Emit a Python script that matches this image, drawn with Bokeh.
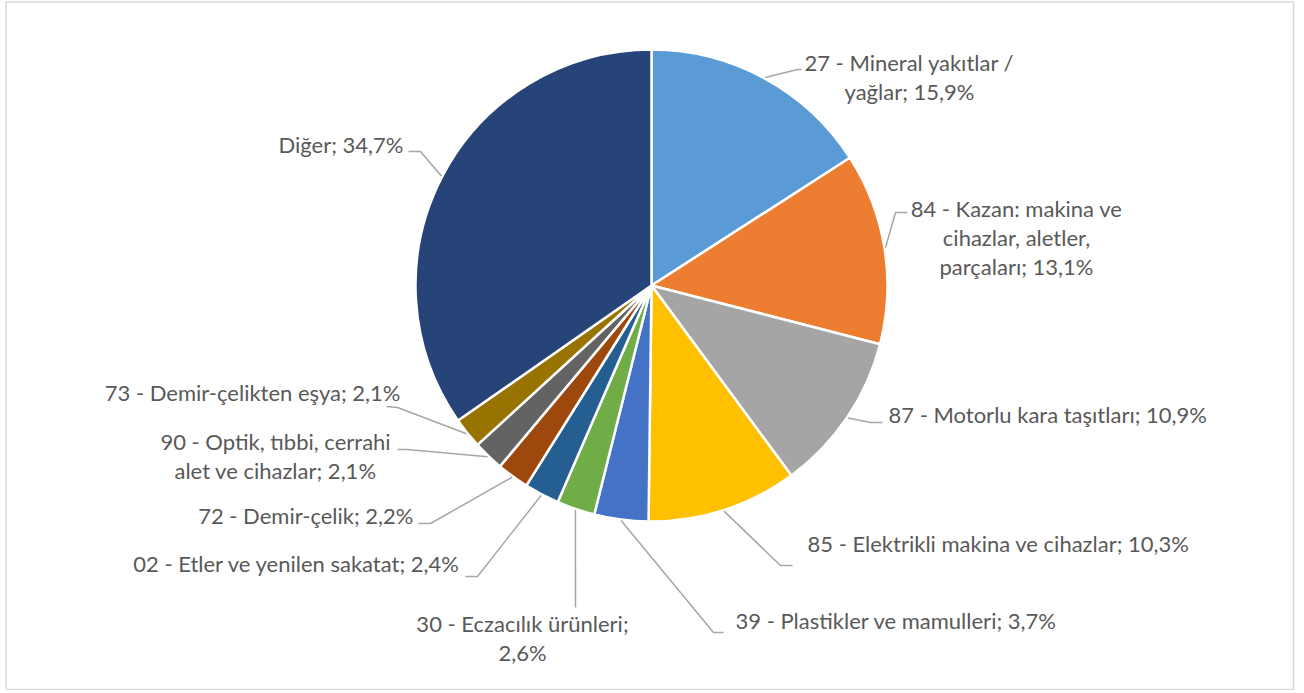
import math
from bokeh.plotting import figure
from bokeh.models import Range1d, ColumnDataSource
from bokeh.core.properties import value
from bokeh.embed import file_html
from bokeh.resources import INLINE

# ---- data ----
categories = [
    "27 - Mineral yakıtlar / yağlar",
    "84 - Kazan: makina ve cihazlar, aletler, parçaları",
    "87 - Motorlu kara taşıtları",
    "85 - Elektrikli makina ve cihazlar",
    "39 - Plastikler ve mamulleri",
    "30 - Eczacılık ürünleri",
    "02 - Etler ve yenilen sakatat",
    "72 - Demir-çelik",
    "90 - Optik, tıbbi, cerrahi alet ve cihazlar",
    "73 - Demir-çelikten eşya",
    "Diğer",
]
shares = [15.9, 13.1, 10.9, 10.3, 3.7, 2.6, 2.4, 2.2, 2.1, 2.1, 34.7]
colors = ["#5B9BD5", "#ED7D31", "#A5A5A5", "#FFC000", "#4472C4", "#70AD47",
          "#255E91", "#9E480E", "#636363", "#997300", "#264478"]

# ---- layout (image pixel coords) ----
W, H = 1296, 690
CX, CY, R = 651, 285, 236
FONT = "Lato"
FS = "22px"
TEXT_COLOR = "#595959"
LEADER = "#A6A6A6"

# how each label is broken into lines
label_lines = [
    ["27 - Mineral yakıtlar /", "yağlar; {v}"],
    ["84 - Kazan: makina ve", "cihazlar, aletler,", "parçaları; {v}"],
    ["87 - Motorlu kara taşıtları; {v}"],
    ["85 - Elektrikli makina ve cihazlar; {v}"],
    ["39 - Plastikler ve mamulleri; {v}"],
    ["30 - Eczacılık ürünleri;", "{v}"],
    ["02 - Etler ve yenilen sakatat; {v}"],
    ["72 - Demir-çelik; {v}"],
    ["90 - Optik, tıbbi, cerrahi", "alet ve cihazlar; {v}"],
    ["73 - Demir-çelikten eşya; {v}"],
    ["Diğer; {v}"],
]
# text anchor x, first baseline y, alignment
label_x = [909, 1016, 888, 807, 735, 522, 460, 413, 275, 400, 403]
label_y = [62, 208, 414, 543, 620, 623, 563, 515, 441, 392, 144]
label_align = ["center", "center", "left", "left", "left", "center",
               "right", "right", "center", "right", "right"]
LINE_H = 29
# leader elbow and end points
elbow = [(797, 69), (895, 212), (870, 422), (780, 565), (713, 632), (575, 607),
         (477, 576), (430, 523), (407, 449), (397, 407), (420, 151)]
lead_end = [(801, 69), (907, 212), (882, 422), (792, 565), (723, 632), (575, 607),
            (465, 576), (418, 523), (397, 449), (386, 406), (408, 151)]

p = figure(width=W, height=H, output_backend="svg", toolbar_location=None,
           x_range=Range1d(0, W), y_range=Range1d(-H, 0),
           min_border=0, match_aspect=False)
p.axis.visible = False
p.grid.visible = False
p.outline_line_color = None
p.background_fill_color = "white"
p.border_fill_color = "white"

# chart-area border
p.quad(left=[5.5], right=[1293], top=[-1.5], bottom=[-689], fill_color=None,
       line_color="#D9D9D9", line_width=1.5)

# wedges
starts, ends, mids = [], [], []
cum = 0.0
for v in shares:
    a0 = math.radians(90 - cum * 3.6)
    a1 = math.radians(90 - (cum + v) * 3.6)
    starts.append(a0)
    ends.append(a1)
    mids.append((a0 + a1) / 2)
    cum += v

src = ColumnDataSource(dict(start=starts, end=ends, color=colors, cat=categories, share=shares))
p.wedge(x=CX, y=-CY, radius=R, start_angle="start", end_angle="end", direction="clock",
        fill_color="color", line_color="white", line_width=2.5, source=src)

# leaders
xs, ys = [], []
for i, m in enumerate(mids):
    sx = CX + (R + 1) * math.cos(m)
    sy = CY - (R + 1) * math.sin(m)
    ex, ey = elbow[i]
    tx, ty = lead_end[i]
    xs.append([sx, ex, tx])
    ys.append([-sy, -ey, -ty])
p.multi_line(xs=xs, ys=ys, line_color=LEADER, line_width=1.5)

# labels
tx_, ty_, tt_, ta_ = [], [], [], []
for i, v in enumerate(shares):
    vs = f"{v:.1f}".replace(".", ",") + "%"
    for j, ln in enumerate(label_lines[i]):
        tt_.append(ln.replace("{v}", vs))
        tx_.append(label_x[i])
        ty_.append(-(label_y[i] + j * LINE_H))
        ta_.append(label_align[i])
p.text(x=tx_, y=ty_, text=tt_, text_align=ta_, text_baseline="alphabetic",
       text_font=value(FONT), text_font_size=FS, text_color=TEXT_COLOR)

open("out.html", "w").write(file_html(p, INLINE))
